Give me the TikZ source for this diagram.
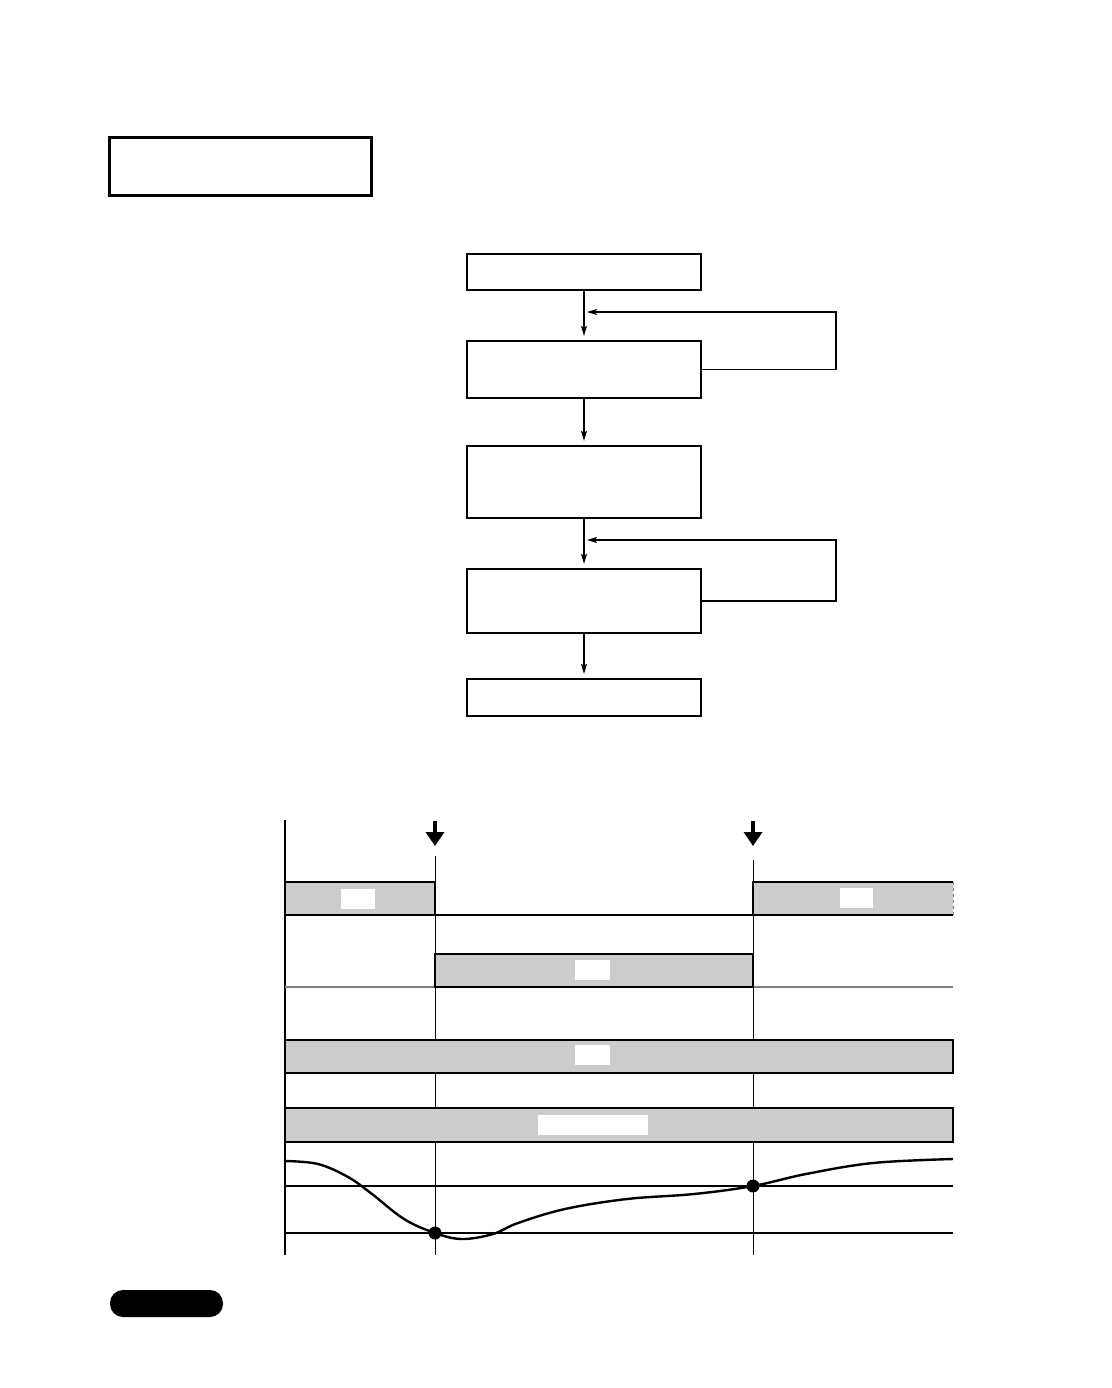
\documentclass[tikz,border=0pt]{standalone}
\usetikzlibrary{arrows.meta}
\definecolor{barfill}{gray}{0.8}
\definecolor{rulegray}{gray}{0.5}
\begin{document}
\begin{tikzpicture}[x=1pt, y=-1pt, >={Stealth[length=10pt, width=6pt, inset=2pt]},
  stepbox/.style={draw, line width=2.3pt, minimum width=234pt, inner sep=0pt},
  link/.style={line width=1.2pt, shorten >=4pt},
  bar/.style={draw, fill=barfill, line width=1.1pt},
  tag/.style={fill=white, inner sep=0pt, minimum height=20pt},
  marker/.style={line width=4pt, -{Triangle[width=18pt, length=14pt]}}]

\useasboundingbox (0,0) rectangle (1111,1388);

% title box, top left
\node[draw, line width=3pt, minimum width=262pt, minimum height=58pt] (title) at (240,167) {};

% flow of steps
\node[stepbox, minimum height=36pt] (b1) at (584,272) {};
\node[stepbox, minimum height=57pt] (b2) at (584,369.5) {};
\node[stepbox, minimum height=72pt] (b3) at (584,482) {};
\node[stepbox, minimum height=64pt] (b4) at (584,601) {};
\node[stepbox, minimum height=37pt] (b5) at (584,697.5) {};

\draw[->, link] (b1.south) -- (b2.north);
\draw[->, link] (b2.south) -- (b3.north);
\draw[->, link] (b3.south) -- (b4.north);
\draw[->, link] (b4.south) -- (b5.north);

% feedback loops back into the flow
\coordinate (r1) at (836,312);
\coordinate (j1) at (587,312);
\draw[->, line width=1.2pt] (b2.east) -| (r1) -- (j1);
\coordinate (r2) at (836,540);
\coordinate (j2) at (587,540);
\draw[->, line width=1.2pt] (b4.east) -| (r2) -- (j2);

% time chart: grid lines
\draw[line width=1.1pt] (285,820) -- (285,1255);
\draw[line width=1pt] (435,856) -- (435,1255);
\draw[line width=1pt] (753,860) -- (753,1255);
\draw[line width=1.1pt] (285,915) -- (953,915);
\draw[line width=1.3pt, rulegray] (285,987) -- (953,987);
\draw[line width=1.1pt] (285,1186) -- (953,1186);
\draw[line width=1.1pt] (285,1233) -- (953,1233);

% switch points
\draw[marker] (435,821) -- (435,846);
\draw[marker] (753,821) -- (753,846);

% shaded bars
\draw[bar] (285,882) rectangle (435,915);
\fill[barfill] (753,882) rectangle (953,915);
\draw[line width=1.1pt] (953,882) -- (753,882) -- (753,915) -- (953,915);
\draw[line width=1pt, dashed, rulegray] (953,882) -- (953,915);
\draw[bar] (435,954) rectangle (753,987);
\draw[bar] (285,1040) rectangle (953,1073);
\draw[bar] (285,1108) rectangle (953,1142);

\node[tag, minimum width=34pt] (t1) at (358,899) {};
\node[tag, minimum width=33pt] (t2) at (856,898) {};
\node[tag, minimum width=35pt] (t3) at (592,970) {};
\node[tag, minimum width=35pt] (t4) at (592,1055) {};
\node[tag, minimum width=110pt] (t5) at (593,1125) {};

% curve with its two marked points
\draw[line width=2.4pt] plot[smooth, tension=0.6] coordinates {(285,1161) (318,1164) (348,1177) (372,1194) (404,1219) (435,1233) (462,1239) (493,1234) (518,1223) (565,1209) (627,1199) (694,1194) (753,1186) (806,1174) (873,1163) (953,1159)};
\fill (435,1233) circle (6.5pt);
\fill (753,1186) circle (6.5pt);

% page tab
\fill[rounded corners=13pt] (110,1290) rectangle (223,1317);

\end{tikzpicture}
\end{document}
